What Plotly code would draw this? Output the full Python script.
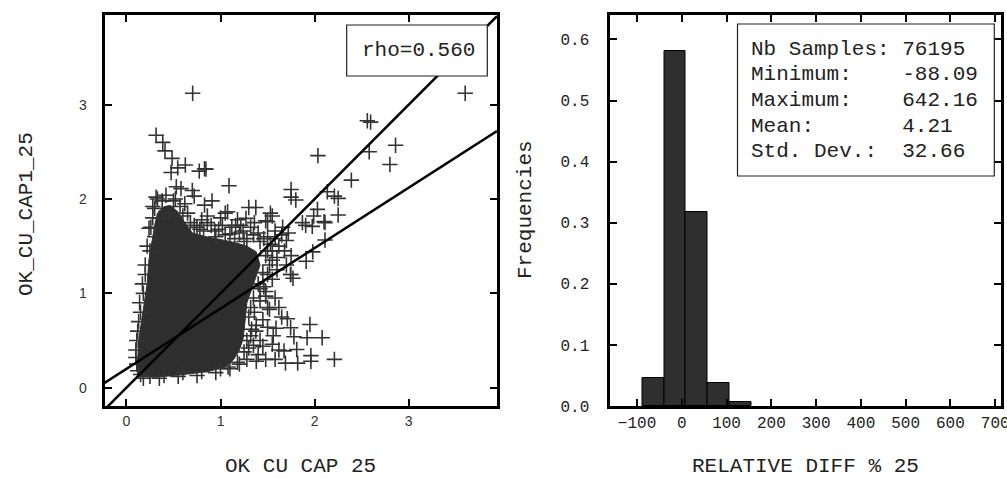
import plotly.graph_objects as go

W, H = 1007, 479

# ---------------- data: scatter (left panel) ----------------
# outline of the dense core of the point cloud (data coordinates)
cloud_x = [0.13, 0.12, 0.13, 0.16, 0.19, 0.22, 0.24, 0.27, 0.30, 0.33, 0.40, 0.47, 0.55, 0.62,
           0.70, 0.85, 1.00, 1.15, 1.28, 1.38, 1.42, 1.36, 1.28, 1.26, 1.24, 1.20, 1.14, 1.05,
           0.90, 0.70, 0.50, 0.30, 0.13]
cloud_y = [0.12, 0.30, 0.50, 0.70, 0.93, 1.10, 1.36, 1.55, 1.72, 1.85, 1.92, 1.93, 1.86, 1.75,
           1.64, 1.60, 1.57, 1.54, 1.50, 1.44, 1.30, 1.12, 0.90, 0.70, 0.52, 0.40, 0.30, 0.22,
           0.18, 0.15, 0.13, 0.11, 0.12]

# individual "+" samples (edges of the cloud and outliers)
pts_x = [0.704, 3.60, 2.56, 2.595, 2.86, 2.58, 2.80, 2.035, 2.39, 2.135, 2.21, 2.25, 2.25, 2.11,
         2.11, 2.03, 1.99, 1.905, 2.10, 1.975, 1.87, 1.75, 1.75, 1.80, 1.745, 1.77, 1.09, 0.83,
         0.774, 0.845, 0.315, 0.386, 0.41, 0.485, 0.545, 0.626, 0.475, 0.53, 0.58, 0.315, 0.42,
         0.70, 0.72, 0.91, 0.83, 1.05, 0.86, 0.24, 1.30, 1.375, 1.27, 1.215, 1.55, 1.50, 1.075,
         1.91, 1.98, 1.71, 1.745, 1.78, 1.95, 1.92, 2.08, 1.675, 1.81, 1.69, 1.82, 1.96, 1.96,
         2.21, 1.55, 1.45, 1.375, 1.59, 1.52, 1.48, 1.46, 1.745, 1.53, 1.48,
         0.75, 0.82, 0.90, 0.98, 1.05, 1.12, 1.20, 1.28, 1.35, 1.42, 1.50, 1.58, 1.65, 1.70,
         1.62, 1.55, 1.48, 1.60, 1.68, 1.75, 1.52, 1.60, 1.70, 1.45, 1.55, 1.40, 1.48, 1.42,
         1.50, 1.36, 1.45, 1.38, 1.50, 1.32, 1.42, 1.30, 1.40, 1.28, 1.48, 1.20, 1.08,
         0.35, 0.45, 0.60, 0.68, 0.30, 0.25, 0.20, 0.18, 0.15, 0.12, 0.10, 0.11, 0.15, 0.25,
         0.40, 0.60, 0.80, 1.00, 0.28, 0.33, 0.95, 1.15, 1.25, 0.62, 0.52,
         0.14, 0.17, 0.20, 0.22, 0.26, 0.28, 0.30, 0.38, 0.50, 0.57, 0.65, 0.13, 0.11, 0.10,
         0.12, 0.18, 0.35, 0.55, 0.75, 0.95, 1.10, 1.18,
         0.72, 0.78, 0.86, 0.94, 1.02, 1.10, 1.16, 1.24, 1.32, 1.40, 1.46, 1.53, 1.58, 1.66,
         1.72, 0.80, 1.00, 1.18, 1.36,
         1.50, 1.55, 1.50, 1.42, 1.35, 1.32, 1.30, 1.33, 1.28, 1.35, 1.25, 1.38, 1.58, 1.62,
         1.56, 1.62, 1.58, 1.65]
pts_y = [3.12, 3.12, 2.83, 2.815, 2.57, 2.50, 2.365, 2.46, 2.20, 2.076, 2.03, 2.006, 1.83, 1.75,
         1.566, 1.89, 1.82, 1.72, 1.76, 1.71, 1.75, 2.10, 2.02, 1.99, 1.20, 1.16, 2.14, 2.32,
         2.295, 2.316, 2.675, 2.60, 2.51, 2.43, 2.33, 2.36, 2.28, 2.13, 2.11, 2.02, 2.04,
         2.09, 2.03, 1.98, 1.935, 1.85, 1.82, 1.69, 1.91, 1.91, 1.795, 1.72, 1.82, 1.76, 1.865,
         1.34, 1.44, 0.73, 0.635, 0.54, 0.67, 0.53, 0.53, 0.39, 0.405, 0.26, 0.26, 0.34, 0.28,
         0.30, 0.46, 0.44, 0.60, 0.63, 0.83, 0.97, 1.07, 1.20, 1.85, 1.77,
         1.70, 1.66, 1.72, 1.68, 1.62, 1.70, 1.64, 1.58, 1.62, 1.55, 1.60, 1.66, 1.62, 1.56,
         1.50, 1.45, 1.40, 1.38, 1.45, 1.40, 1.30, 1.25, 1.30, 1.22, 1.15, 1.10, 1.02, 0.92,
         0.85, 0.80, 0.72, 0.66, 0.64, 0.55, 0.50, 0.42, 0.35, 0.30, 0.30, 0.25, 0.22,
         1.80, 1.85, 1.82, 1.75, 1.60, 1.45, 1.20, 1.00, 0.80, 0.60, 0.40, 0.25, 0.14, 0.12,
         0.13, 0.16, 0.17, 0.20, 1.92, 2.00, 1.60, 1.58, 1.55, 1.95, 2.00,
         0.90, 1.10, 1.30, 1.50, 1.70, 1.80, 1.90, 1.98, 1.98, 1.92, 1.85, 0.70, 0.50, 0.32,
         0.18, 0.10, 0.10, 0.12, 0.13, 0.16, 0.20, 0.27,
         1.72, 1.68, 1.75, 1.66, 1.72, 1.63, 1.72, 1.66, 1.70, 1.64, 1.58, 1.52, 1.58, 1.70,
         1.64, 1.78, 1.80, 1.78, 1.75,
         1.45, 1.35, 1.20, 1.05, 0.95, 0.85, 0.75, 0.62, 0.50, 0.45, 0.38, 0.28, 0.95, 0.85,
         0.55, 0.40, 0.30, 0.75]

rho_text = "rho=0.560"
fit_intercept = 0.20
fit_slope = 0.64
x_range_left = [-0.233, 3.938]
y_range_left = [-0.194, 3.95]

# ---------------- data: histogram (right panel) ----------------
nb_samples = 76195
stat_min = -88.09
stat_max = 642.16
stat_mean = 4.21
stat_std = 32.66
n_bins = 15
freqs = [0.046, 0.581, 0.318, 0.038, 0.007, 0.0, 0.0, 0.0, 0.0, 0.0,
         0.0, 0.0, 0.0, 0.0, 0.0]

# ---------------- figure ----------------
def px_x(p):
    return p / W

def px_y(p):
    return 1 - p / H

MONO = "Courier New, Liberation Mono, DejaVu Sans Mono, monospace"

fig = go.Figure()

fig.add_trace(go.Scatter(x=cloud_x, y=cloud_y, mode="lines", fill="toself",
                         fillcolor="#2e2e2e", line=dict(color="#2e2e2e", width=1),
                         hoverinfo="skip", showlegend=False))
fig.add_trace(go.Scatter(x=pts_x, y=pts_y, mode="markers",
                         marker=dict(symbol="cross-thin", size=11,
                                     line=dict(color="#333333", width=1.6)),
                         showlegend=False))
# y = x line
fig.add_trace(go.Scatter(x=[x_range_left[0], x_range_left[1]],
                         y=[x_range_left[0], x_range_left[1]],
                         mode="lines", line=dict(color="black", width=2.5), showlegend=False))
# regression line
fx = [x_range_left[0], x_range_left[1]]
fig.add_trace(go.Scatter(x=fx, y=[fit_intercept + fit_slope * v for v in fx],
                         mode="lines", line=dict(color="black", width=2.5), showlegend=False))

# histogram bars (only non-empty bins are drawn)
bw = (stat_max - stat_min) / n_bins
centers = [stat_min + bw * (i + 0.5) for i in range(n_bins)]
bar_x = [c for c, f in zip(centers, freqs) if f > 0]
bar_y = [f for f in freqs if f > 0]
fig.add_trace(go.Bar(x=bar_x, y=bar_y, width=[bw] * len(bar_x), xaxis="x2", yaxis="y2",
                     marker=dict(color="#2f2f2f", line=dict(color="black", width=1)),
                     showlegend=False))

axis_common = dict(showgrid=False, zeroline=False, showline=True, linecolor="black",
                   linewidth=3, mirror="ticks", ticks="inside", ticklen=7, tickwidth=1.5,
                   tickcolor="black", ticklabeloverflow="allow", automargin=False)

fig.update_layout(
    width=W, height=H, margin=dict(l=0, r=0, t=0, b=0, autoexpand=False),
    paper_bgcolor="white", plot_bgcolor="white", bargap=0,
    xaxis=dict(domain=[px_x(104.5), px_x(497)], range=x_range_left, tickvals=[0, 1, 2, 3],
               tickfont=dict(family="Liberation Sans", size=14, color="#333333"),
               anchor="y", **axis_common),
    yaxis=dict(domain=[px_y(406), px_y(15)], range=y_range_left, tickvals=[0, 1, 2, 3],
               tickfont=dict(family="Liberation Sans", size=14, color="#333333"),
               ticklabelstandoff=12, anchor="x", **axis_common),
    xaxis2=dict(domain=[px_x(609.5), px_x(1001)], range=[-161.5, 713],
                tickvals=[-100, 0, 100, 200, 300, 400, 500, 600, 700],
                tickfont=dict(family=MONO, size=16, color="#222222"),
                anchor="y2", **axis_common),
    yaxis2=dict(domain=[px_y(406), px_y(15)], range=[0, 0.64],
                tickvals=[0, 0.1, 0.2, 0.3, 0.4, 0.5, 0.6], tickformat=".1f",
                tickfont=dict(family=MONO, size=16, color="#222222"),
                ticklabelstandoff=14, anchor="x2", **axis_common),
)

title_font = dict(family=MONO, size=21, color="#222222")
annotations = [
    dict(text="OK CU CAP 25", x=px_x(300), y=px_y(466), xref="paper", yref="paper",
         showarrow=False, xanchor="center", yanchor="middle", font=title_font),
    dict(text="RELATIVE DIFF % 25", x=px_x(805.5), y=px_y(466), xref="paper", yref="paper",
         showarrow=False, xanchor="center", yanchor="middle", font=title_font),
    dict(text="OK_CU_CAP1_25", x=px_x(26), y=px_y(214), xref="paper", yref="paper",
         showarrow=False, xanchor="center", yanchor="middle", textangle=-90, font=title_font),
    dict(text="Frequencies", x=px_x(525), y=px_y(210), xref="paper", yref="paper",
         showarrow=False, xanchor="center", yanchor="middle", textangle=-90, font=title_font),
    dict(text=rho_text, x=px_x(418), y=px_y(50.5), xref="paper", yref="paper",
         showarrow=False, xanchor="center", yanchor="middle", font=title_font),
]

nb = "\u00a0"
stat_lines = [
    "Nb" + nb + "Samples:" + nb + f"{nb_samples}",
    "Minimum:" + nb * 4 + f"{stat_min:.2f}",
    "Maximum:" + nb * 4 + f"{stat_max:.2f}",
    "Mean:" + nb * 7 + f"{stat_mean:.2f}",
    "Std." + nb + "Dev.:" + nb * 2 + f"{stat_std:.2f}",
]
line_y = [49.3, 75, 100.5, 126, 151.7]
for s, yy in zip(stat_lines, line_y):
    annotations.append(dict(text=s, x=px_x(749), y=px_y(yy), xref="paper", yref="paper",
                            showarrow=False, xanchor="left", yanchor="middle", font=title_font))

fig.update_layout(annotations=annotations)

fig.add_shape(type="rect", xref="paper", yref="paper",
              x0=px_x(346.7), x1=px_x(487.3), y0=px_y(76), y1=px_y(25),
              line=dict(color="#222222", width=1.2), fillcolor="white", layer="above")
fig.add_shape(type="rect", xref="paper", yref="paper",
              x0=px_x(737.5), x1=px_x(994.3), y0=px_y(176), y1=px_y(24),
              line=dict(color="#222222", width=1.2), fillcolor="white", layer="above")

fig.write_html("out.html", config={"displayModeBar": False},
               post_script="document.body.style.margin='0px';document.body.style.overflow='hidden';")
